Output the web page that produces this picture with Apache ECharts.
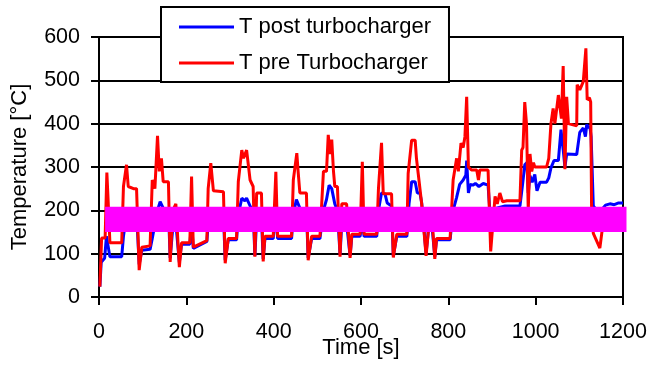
<!DOCTYPE html>
<html>
<head>
<meta charset="utf-8">
<script src="https://cdn.jsdelivr.net/npm/echarts@6/dist/echarts.min.js"></script>
<style>
  html, body { margin: 0; padding: 0; background: #fff; }
  #chart { width: 650px; height: 366px; }
</style>
</head>
<body>
<div id="chart"></div>
<script>
// T post turbocharger (blue)
const postTime = [2, 5, 13, 17, 21, 25, 52, 56, 63, 86, 92, 98, 117, 122, 134, 140, 147, 159, 163, 169,
  176, 184, 189, 208, 212, 216, 247, 250, 256, 262, 285, 289, 296, 315, 319, 327, 334, 338, 346, 353,
  357, 361, 372, 376, 380, 399, 405, 409, 441, 445, 452, 460, 475, 479, 487, 506, 514, 521, 527, 533,
  540, 546, 552, 556, 567, 575, 579, 598, 603, 607, 636, 640, 647, 655, 660, 670, 674, 682, 705, 710,
  716, 724, 729, 735, 739, 749, 754, 762, 769, 773, 804, 811, 819, 826, 834, 840, 842, 846, 850, 856,
  862, 870, 880, 891, 895, 900, 910, 930, 964, 970, 975, 980, 983, 987, 992, 998, 1003, 1010, 1025, 1030,
  1035, 1042, 1052, 1058, 1063, 1067, 1071, 1094, 1101, 1109, 1114, 1117, 1121, 1124, 1127, 1132, 1140, 1150, 1160, 1170,
  1180, 1190, 1200];
const postTemp = [24, 80, 90, 140, 140, 93, 93, 140, 190, 195, 75, 108, 110, 135, 200, 220, 205, 200, 90, 160,
  170, 80, 122, 122, 170, 112, 128, 170, 200, 195, 190, 85, 132, 132, 190, 228, 222, 228, 210, 200,
  95, 180, 180, 88, 135, 135, 200, 135, 135, 190, 225, 205, 200, 90, 135, 135, 200, 225, 258, 250,
  215, 200, 98, 170, 170, 95, 140, 140, 180, 140, 140, 200, 240, 238, 217, 210, 95, 140, 140, 215,
  266, 266, 240, 240, 217, 100, 150, 170, 93, 132, 132, 200, 230, 260, 270, 281, 315, 240, 260, 258,
  262, 255, 262, 258, 200, 180, 205, 210, 210, 260, 305, 310, 240, 280, 265, 283, 245, 265, 265, 275,
  298, 315, 315, 386, 340, 300, 330, 329, 380, 390, 370, 398, 390, 395, 370, 210, 200, 200, 212, 215,
  213, 217, 217];

// T pre Turbocharger (red)
const preTime = [2, 6, 14, 18, 21, 25, 52, 56, 63, 67, 79, 86, 92, 98, 117, 122, 128, 134, 138, 143,
  147, 159, 163, 169, 176, 184, 189, 208, 212, 216, 247, 250, 256, 262, 285, 289, 296, 315, 319, 327,
  331, 338, 342, 346, 353, 357, 361, 372, 376, 380, 399, 405, 409, 441, 445, 453, 456, 460, 475, 479,
  487, 506, 514, 521, 525, 529, 533, 537, 540, 546, 552, 556, 567, 575, 579, 598, 603, 607, 636, 640,
  647, 651, 670, 674, 682, 705, 708, 716, 724, 727, 731, 739, 749, 754, 762, 769, 773, 804, 811, 819,
  823, 829, 834, 838, 842, 846, 853, 865, 869, 872, 891, 897, 907, 912, 918, 924, 934, 964, 968, 971,
  975, 979, 983, 987, 991, 995, 998, 1025, 1030, 1035, 1040, 1044, 1052, 1056, 1059, 1063, 1067, 1071, 1075, 1094,
  1095, 1101, 1109, 1115, 1118, 1123, 1126, 1128, 1132, 1147, 1155, 1170];
const preTemp = [24, 136, 136, 287, 220, 125, 125, 255, 305, 255, 250, 250, 62, 115, 118, 270, 250, 372, 290, 320,
  266, 266, 81, 200, 215, 69, 125, 125, 278, 115, 130, 250, 309, 245, 243, 78, 135, 135, 266, 339,
  320, 339, 305, 270, 255, 93, 240, 240, 82, 140, 140, 289, 140, 140, 270, 332, 290, 240, 240, 85,
  140, 140, 290, 290, 374, 330, 363, 290, 255, 255, 93, 215, 215, 90, 145, 145, 312, 145, 145, 250,
  356, 238, 238, 91, 145, 145, 285, 362, 362, 320, 285, 215, 95, 150, 190, 88, 135, 135, 270, 320,
  290, 355, 345, 370, 462, 300, 293, 293, 270, 293, 293, 105, 232, 215, 240, 220, 222, 222, 339, 345,
  450, 400, 200, 330, 290, 310, 300, 300, 320, 400, 435, 400, 466, 435, 412, 533, 295, 462, 400, 395,
  490, 478, 497, 574, 455, 460, 450, 210, 147, 113, 175, 180];

// magenta bar
const bandTime = [14, 1208];
const bandTemp = [150, 208];

const xTicks = { min: 0, max: 1200, step: 200 };
const yTicks = { min: 0, max: 600, step: 100 };

const font = "'Liberation Sans', Arial, sans-serif";
const pairs = (xs, ys) => xs.map((x, i) => [x, ys[i]]);

const chart = echarts.init(document.getElementById('chart'), null, { renderer: 'canvas' });
chart.setOption({
  animation: false,
  backgroundColor: '#fff',
  grid: {
    left: 99, right: 27, top: 37, bottom: 69,
    outerBoundsMode: 'none',
    show: true, borderColor: '#000', borderWidth: 2, backgroundColor: 'transparent',
  },
  legend: {
    data: ['T post turbocharger', 'T pre Turbocharger'],
    orient: 'vertical',
    left: 161,
    top: 7,
    padding: [9, 18, 8, 18],
    itemGap: 14,
    itemWidth: 55,
    itemHeight: 3,
    icon: 'rect',
    backgroundColor: '#fff',
    borderColor: '#000',
    borderWidth: 2,
    borderRadius: 0,
    z: 20,
    textStyle: { color: '#000', fontSize: 22, fontFamily: font },
  },
  xAxis: {
    type: 'value',
    min: xTicks.min,
    max: xTicks.max,
    interval: xTicks.step,
    name: 'Time [s]',
    nameLocation: 'middle',
    nameGap: 40,
    nameMoveOverlap: false,
    nameTextStyle: { color: '#000', fontSize: 22, fontFamily: font },
    axisLine: { onZero: false, lineStyle: { color: '#000', width: 2 } },
    axisTick: { show: true, inside: false, length: 8, lineStyle: { color: '#000', width: 2 } },
    axisLabel: { color: '#000', fontSize: 21.5, fontFamily: font, margin: 24, formatter: (v) => String(v) },
    splitLine: { show: false },
  },
  yAxis: {
    type: 'value',
    min: yTicks.min,
    max: yTicks.max,
    interval: yTicks.step,
    name: 'Temperature [°C]',
    nameLocation: 'middle',
    nameGap: 68,
    nameMoveOverlap: false,
    nameTextStyle: { color: '#000', fontSize: 22, fontFamily: font },
    axisLine: { lineStyle: { color: '#000', width: 2 } },
    axisTick: { show: true, inside: false, length: 8, lineStyle: { color: '#000', width: 2 } },
    axisLabel: { color: '#000', fontSize: 21.5, fontFamily: font, margin: 19, formatter: (v) => String(v) },
    splitLine: { show: true, lineStyle: { color: '#000', width: 2 } },
  },
  series: [
    {
      name: 'T post turbocharger',
      type: 'line',
      data: pairs(postTime, postTemp),
      showSymbol: false,
      symbol: 'none',
      color: '#0000ff',
      lineStyle: { color: '#0000ff', width: 3 },
      z: 3,
    },
    {
      name: 'T pre Turbocharger',
      type: 'line',
      data: pairs(preTime, preTemp),
      showSymbol: false,
      symbol: 'none',
      color: '#ff0000',
      lineStyle: { color: '#ff0000', width: 3 },
      z: 4,
    },
    {
      name: 'band',
      type: 'custom',
      z: 10,
      silent: true,
      clip: false,
      data: [[bandTime[0], bandTemp[0], bandTime[1], bandTemp[1]]],
      renderItem: (params, api) => {
        const p0 = api.coord([api.value(0), api.value(3)]);
        const p1 = api.coord([api.value(2), api.value(1)]);
        return {
          type: 'rect',
          shape: { x: p0[0], y: p0[1], width: p1[0] - p0[0], height: p1[1] - p0[1] },
          style: { fill: '#ff00ff' },
        };
      },
    },
  ],
});
</script>
</body>
</html>
